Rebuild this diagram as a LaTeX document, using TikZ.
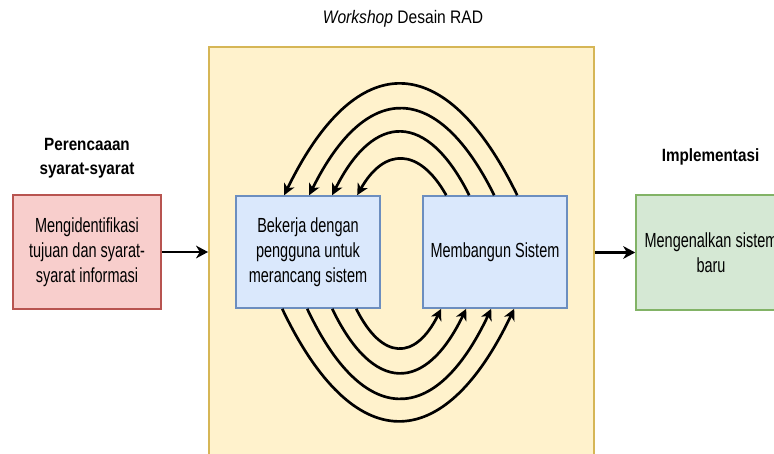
\documentclass[tikz,border=0pt]{standalone}
\usepackage{fontspec}
\setmainfont{Liberation Sans}
\newfontfamily\boxfont[FakeStretch=0.71]{Liberation Sans}
\newfontfamily\labfont[FakeStretch=0.86]{Liberation Sans}
\usetikzlibrary{arrows.meta,calc}
\definecolor{yelF}{HTML}{FFF2CC}\definecolor{yelD}{HTML}{D6B656}
\definecolor{redF}{HTML}{F8CECC}\definecolor{redD}{HTML}{B85450}
\definecolor{bluF}{HTML}{DAE8FC}\definecolor{bluD}{HTML}{6C8EBF}
\definecolor{grnF}{HTML}{D5E8D4}\definecolor{grnD}{HTML}{82B366}
\tikzset{
  procbox/.style={draw, line width=1.2pt, inner sep=0pt, align=center,
    font=\boxfont\fontsize{15.3}{18.75}\selectfont},
  lab/.style={inner sep=0pt, align=center, font=\labfont\bfseries\fontsize{13.3}{18}\selectfont},
  flow/.style={draw, line width=2.2pt, -{Stealth[length=9pt,width=9.5pt,inset=2.8pt]}},
  loop/.style={draw, line width=2pt, -{Stealth[length=8.5pt,width=8.5pt,inset=2.5pt]}}
}
\begin{document}
\begin{tikzpicture}[x=0.75pt,y=-0.75pt]
\useasboundingbox (0,0) rectangle (774,453);
\fill[white] (0,0) rectangle (774,453);
% workshop area
\node[draw=yelD, fill=yelF, line width=1.4pt, minimum width=288.75pt, minimum height=317.25pt, inner sep=0pt] (W) at (401.5,258.5) {};
\node[inner sep=0pt, font=\labfont\fontsize{13.6}{16}\selectfont] (T) at (403,19) {\textit{Workshop} Desain RAD};
% boxes
\node[procbox, draw=redD, fill=redF, minimum width=111pt, minimum height=85.5pt] (A) at (87,252) {Mengidentifikasi\\tujuan dan syarat-\\syarat informasi};
\node[procbox, draw=bluD, fill=bluF, minimum width=108pt, minimum height=84pt] (L) at (308,252) {Bekerja dengan\\pengguna untuk\\merancang sistem};
\node[procbox, draw=bluD, fill=bluF, minimum width=108pt, minimum height=84pt] (R) at (495,252) {Membangun Sistem};
\node[procbox, draw=grnD, fill=grnF, minimum width=112.5pt, minimum height=86.25pt] (G) at (711,252.5) {Mengenalkan sistem\\baru};
% labels
\node[lab] (LA) at (87,158) {Perencaaan\\syarat-syarat};
\node[lab] (LG) at (710.5,157) {Implementasi};
% main arrows
\draw[flow] (A.east) -- (A.east -| W.west);
\draw[flow] (W.east |- G.west) -- (G.west);
% top loops: from R to L
\draw[loop] ($(R.north west)+(95,0)$) .. controls +(-72,-148) and +(72,-148) .. ($(L.north west)+(49,0)$);
\draw[loop] ($(R.north west)+(72,0)$) .. controls +(-57,-115) and +(57,-115) .. ($(L.north west)+(74,0)$);
\draw[loop] ($(R.north west)+(47,0)$) .. controls +(-42,-84) and +(42,-84) .. ($(L.north west)+(97,0)$);
\draw[loop] ($(R.north west)+(24,0)$) .. controls +(-27,-48) and +(27,-48) .. ($(L.north west)+(122,0)$);
% bottom loops: from L to R
\draw[loop] ($(L.south west)+(47,0)$) .. controls +(71,149) and +(-71,149) .. ($(R.south west)+(92,0)$);
\draw[loop] ($(L.south west)+(72,0)$) .. controls +(56,119) and +(-56,119) .. ($(R.south west)+(69,0)$);
\draw[loop] ($(L.south west)+(97,0)$) .. controls +(41,85) and +(-41,85) .. ($(R.south west)+(44,0)$);
\draw[loop] ($(L.south west)+(121,0)$) .. controls +(26,52) and +(-26,52) .. ($(R.south west)+(19,0)$);
\end{tikzpicture}
\end{document}
